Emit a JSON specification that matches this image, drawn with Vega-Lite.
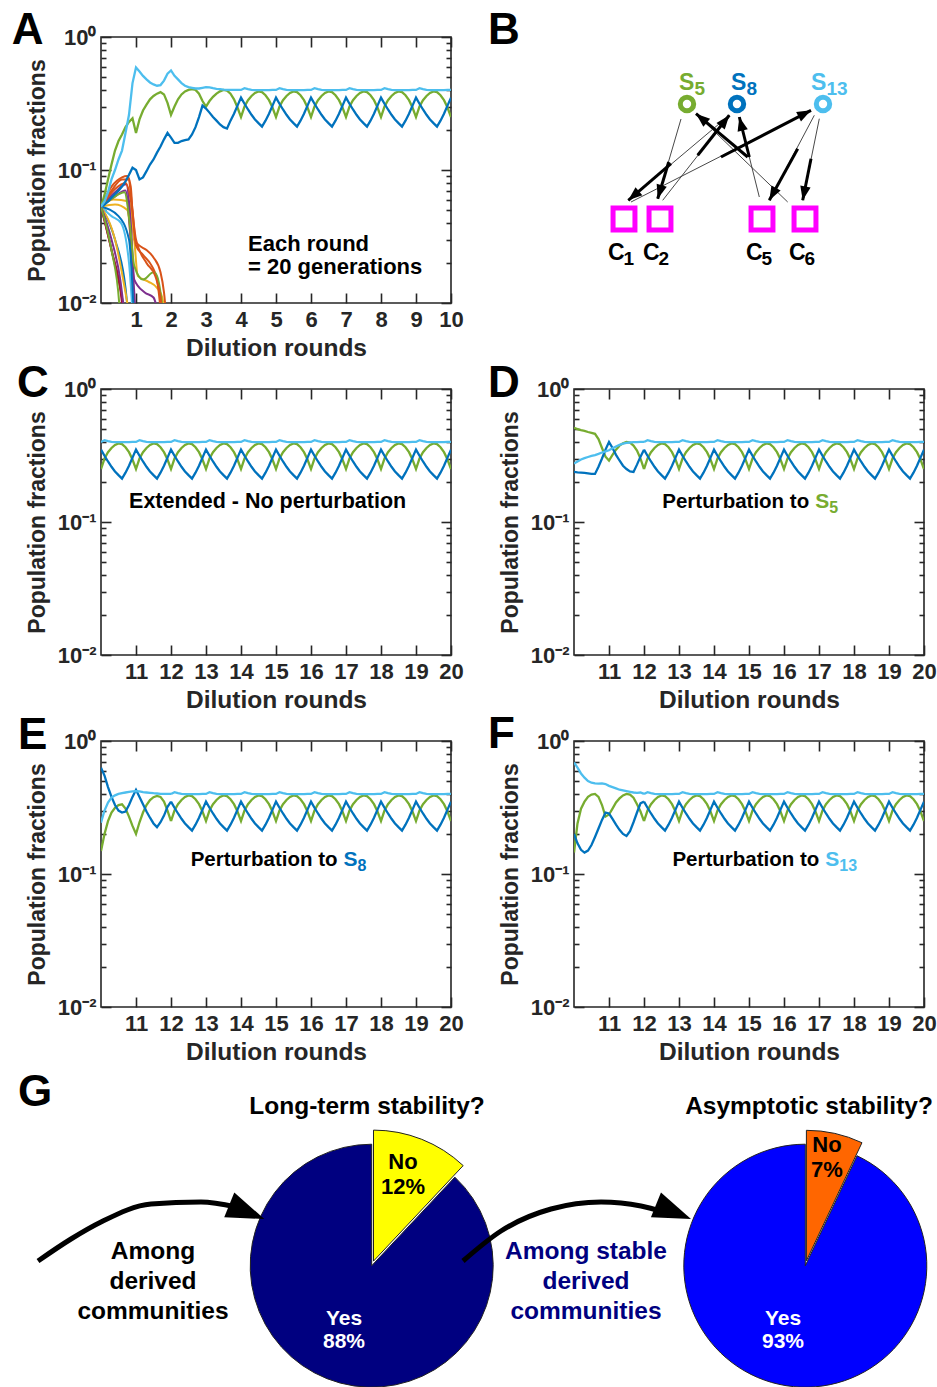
{
"$schema":"https://vega.github.io/schema/vega-lite/v6.json",
"background":"white",
"padding":{"left":10,"top":8,"right":5,"bottom":5},
"columns":2,
"bounds":"flush",
"spacing":{"row":86,"column":123},
"resolve":{"scale":{"color":"independent"}},
"config":{
 "font":"Liberation Sans",
 "view":{"stroke":"#262626","strokeWidth":1.6},
 "text":{"font":"Liberation Sans","fontWeight":"bold"},
 "axis":{"grid":false,"domain":false,"labelFont":"Liberation Sans","labelFontSize":22,"labelFontWeight":"bold","labelColor":"#262626","titleFont":"Liberation Sans","titleFontSize":23,"titleFontWeight":"bold","titleColor":"#262626","tickColor":"#262626","tickWidth":1.6,"labelFlush":false,"labelOverlap":false,"labelBound":false}
},
"datasets":{
"ts":[
{"p":"A","x":0,"S5":0.053,"S8":0.053,"S13":0.053},
{"p":"A","x":0.1,"S5":0.065,"S8":0.055,"S13":0.058},
{"p":"A","x":0.2,"S5":0.085,"S8":0.058,"S13":0.068},
{"p":"A","x":0.3,"S5":0.11,"S8":0.062,"S13":0.085},
{"p":"A","x":0.4,"S5":0.14,"S8":0.066,"S13":0.1},
{"p":"A","x":0.5,"S5":0.165,"S8":0.07,"S13":0.12},
{"p":"A","x":0.6,"S5":0.185,"S8":0.075,"S13":0.14},
{"p":"A","x":0.7,"S5":0.21,"S8":0.082,"S13":0.19},
{"p":"A","x":0.8,"S5":0.23,"S8":0.092,"S13":0.26},
{"p":"A","x":0.9,"S5":0.245,"S8":0.104,"S13":0.45},
{"p":"A","x":1,"S5":0.19,"S8":0.1,"S13":0.59},
{"p":"A","x":1.1,"S5":0.24,"S8":0.085,"S13":0.55},
{"p":"A","x":1.2,"S5":0.28,"S8":0.088,"S13":0.51},
{"p":"A","x":1.3,"S5":0.31,"S8":0.098,"S13":0.48},
{"p":"A","x":1.4,"S5":0.34,"S8":0.11,"S13":0.455},
{"p":"A","x":1.5,"S5":0.36,"S8":0.12,"S13":0.44},
{"p":"A","x":1.6,"S5":0.375,"S8":0.135,"S13":0.43},
{"p":"A","x":1.7,"S5":0.385,"S8":0.15,"S13":0.435},
{"p":"A","x":1.8,"S5":0.37,"S8":0.17,"S13":0.47},
{"p":"A","x":1.9,"S5":0.32,"S8":0.19,"S13":0.53},
{"p":"A","x":2,"S5":0.26,"S8":0.175,"S13":0.56},
{"p":"A","x":2.1,"S5":0.3,"S8":0.16,"S13":0.51},
{"p":"A","x":2.2,"S5":0.34,"S8":0.16,"S13":0.48},
{"p":"A","x":2.3,"S5":0.37,"S8":0.165,"S13":0.45},
{"p":"A","x":2.4,"S5":0.39,"S8":0.168,"S13":0.43},
{"p":"A","x":2.5,"S5":0.4,"S8":0.17,"S13":0.42},
{"p":"A","x":2.6,"S5":0.405,"S8":0.185,"S13":0.415},
{"p":"A","x":2.7,"S5":0.4,"S8":0.21,"S13":0.41},
{"p":"A","x":2.8,"S5":0.375,"S8":0.25,"S13":0.41},
{"p":"A","x":2.9,"S5":0.33,"S8":0.305,"S13":0.415},
{"p":"A","x":3,"S5":0.3,"S8":0.29,"S13":0.42},
{"p":"A","x":3.1,"S5":0.33,"S8":0.27,"S13":0.418},
{"p":"A","x":3.2,"S5":0.355,"S8":0.25,"S13":0.412},
{"p":"A","x":3.3,"S5":0.375,"S8":0.235,"S13":0.408},
{"p":"A","x":3.4,"S5":0.39,"S8":0.22,"S13":0.405},
{"p":"A","x":3.5,"S5":0.4,"S8":0.21,"S13":0.402},
{"p":"A","x":3.6,"S5":0.395,"S8":0.205,"S13":0.4},
{"p":"A","x":3.7,"S5":0.375,"S8":0.235,"S13":0.4},
{"p":"A","x":3.8,"S5":0.34,"S8":0.265,"S13":0.4},
{"p":"A","x":3.9,"S5":0.295,"S8":0.305,"S13":0.4},
{"p":"A","x":4,"S5":0.25,"S8":0.35,"S13":0.4},
{"p":"A","x":4.1,"S5":0.3,"S8":0.315,"S13":0.412},
{"p":"A","x":4.2,"S5":0.335,"S8":0.285,"S13":0.405},
{"p":"A","x":4.3,"S5":0.36,"S8":0.26,"S13":0.4},
{"p":"A","x":4.4,"S5":0.38,"S8":0.24,"S13":0.398},
{"p":"A","x":4.5,"S5":0.39,"S8":0.225,"S13":0.398},
{"p":"A","x":4.6,"S5":0.385,"S8":0.212,"S13":0.398},
{"p":"A","x":4.7,"S5":0.365,"S8":0.235,"S13":0.398},
{"p":"A","x":4.8,"S5":0.335,"S8":0.265,"S13":0.398},
{"p":"A","x":4.9,"S5":0.295,"S8":0.305,"S13":0.4},
{"p":"A","x":5,"S5":0.25,"S8":0.35,"S13":0.4},
{"p":"A","x":5.1,"S5":0.3,"S8":0.315,"S13":0.412},
{"p":"A","x":5.2,"S5":0.335,"S8":0.285,"S13":0.405},
{"p":"A","x":5.3,"S5":0.36,"S8":0.26,"S13":0.4},
{"p":"A","x":5.4,"S5":0.38,"S8":0.24,"S13":0.398},
{"p":"A","x":5.5,"S5":0.39,"S8":0.225,"S13":0.398},
{"p":"A","x":5.6,"S5":0.385,"S8":0.212,"S13":0.398},
{"p":"A","x":5.7,"S5":0.365,"S8":0.235,"S13":0.398},
{"p":"A","x":5.8,"S5":0.335,"S8":0.265,"S13":0.398},
{"p":"A","x":5.9,"S5":0.295,"S8":0.305,"S13":0.4},
{"p":"A","x":6,"S5":0.25,"S8":0.35,"S13":0.4},
{"p":"A","x":6.1,"S5":0.3,"S8":0.315,"S13":0.412},
{"p":"A","x":6.2,"S5":0.335,"S8":0.285,"S13":0.405},
{"p":"A","x":6.3,"S5":0.36,"S8":0.26,"S13":0.4},
{"p":"A","x":6.4,"S5":0.38,"S8":0.24,"S13":0.398},
{"p":"A","x":6.5,"S5":0.39,"S8":0.225,"S13":0.398},
{"p":"A","x":6.6,"S5":0.385,"S8":0.212,"S13":0.398},
{"p":"A","x":6.7,"S5":0.365,"S8":0.235,"S13":0.398},
{"p":"A","x":6.8,"S5":0.335,"S8":0.265,"S13":0.398},
{"p":"A","x":6.9,"S5":0.295,"S8":0.305,"S13":0.4},
{"p":"A","x":7,"S5":0.25,"S8":0.35,"S13":0.4},
{"p":"A","x":7.1,"S5":0.3,"S8":0.315,"S13":0.412},
{"p":"A","x":7.2,"S5":0.335,"S8":0.285,"S13":0.405},
{"p":"A","x":7.3,"S5":0.36,"S8":0.26,"S13":0.4},
{"p":"A","x":7.4,"S5":0.38,"S8":0.24,"S13":0.398},
{"p":"A","x":7.5,"S5":0.39,"S8":0.225,"S13":0.398},
{"p":"A","x":7.6,"S5":0.385,"S8":0.212,"S13":0.398},
{"p":"A","x":7.7,"S5":0.365,"S8":0.235,"S13":0.398},
{"p":"A","x":7.8,"S5":0.335,"S8":0.265,"S13":0.398},
{"p":"A","x":7.9,"S5":0.295,"S8":0.305,"S13":0.4},
{"p":"A","x":8,"S5":0.25,"S8":0.35,"S13":0.4},
{"p":"A","x":8.1,"S5":0.3,"S8":0.315,"S13":0.412},
{"p":"A","x":8.2,"S5":0.335,"S8":0.285,"S13":0.405},
{"p":"A","x":8.3,"S5":0.36,"S8":0.26,"S13":0.4},
{"p":"A","x":8.4,"S5":0.38,"S8":0.24,"S13":0.398},
{"p":"A","x":8.5,"S5":0.39,"S8":0.225,"S13":0.398},
{"p":"A","x":8.6,"S5":0.385,"S8":0.212,"S13":0.398},
{"p":"A","x":8.7,"S5":0.365,"S8":0.235,"S13":0.398},
{"p":"A","x":8.8,"S5":0.335,"S8":0.265,"S13":0.398},
{"p":"A","x":8.9,"S5":0.295,"S8":0.305,"S13":0.4},
{"p":"A","x":9,"S5":0.25,"S8":0.35,"S13":0.4},
{"p":"A","x":9.1,"S5":0.3,"S8":0.315,"S13":0.412},
{"p":"A","x":9.2,"S5":0.335,"S8":0.285,"S13":0.405},
{"p":"A","x":9.3,"S5":0.36,"S8":0.26,"S13":0.4},
{"p":"A","x":9.4,"S5":0.38,"S8":0.24,"S13":0.398},
{"p":"A","x":9.5,"S5":0.39,"S8":0.225,"S13":0.398},
{"p":"A","x":9.6,"S5":0.385,"S8":0.212,"S13":0.398},
{"p":"A","x":9.7,"S5":0.365,"S8":0.235,"S13":0.398},
{"p":"A","x":9.8,"S5":0.335,"S8":0.265,"S13":0.398},
{"p":"A","x":9.9,"S5":0.295,"S8":0.305,"S13":0.4},
{"p":"A","x":10,"S5":0.25,"S8":0.35,"S13":0.4},
{"p":"S","x":10,"S5":0.25,"S8":0.35,"S13":0.4},
{"p":"S","x":10.1,"S5":0.3,"S8":0.315,"S13":0.412},
{"p":"S","x":10.2,"S5":0.335,"S8":0.285,"S13":0.405},
{"p":"S","x":10.3,"S5":0.36,"S8":0.26,"S13":0.4},
{"p":"S","x":10.4,"S5":0.38,"S8":0.24,"S13":0.398},
{"p":"S","x":10.5,"S5":0.39,"S8":0.225,"S13":0.398},
{"p":"S","x":10.6,"S5":0.385,"S8":0.212,"S13":0.398},
{"p":"S","x":10.7,"S5":0.365,"S8":0.235,"S13":0.398},
{"p":"S","x":10.8,"S5":0.335,"S8":0.265,"S13":0.398},
{"p":"S","x":10.9,"S5":0.295,"S8":0.305,"S13":0.4},
{"p":"S","x":11,"S5":0.25,"S8":0.35,"S13":0.4},
{"p":"S","x":11.1,"S5":0.3,"S8":0.315,"S13":0.412},
{"p":"S","x":11.2,"S5":0.335,"S8":0.285,"S13":0.405},
{"p":"S","x":11.3,"S5":0.36,"S8":0.26,"S13":0.4},
{"p":"S","x":11.4,"S5":0.38,"S8":0.24,"S13":0.398},
{"p":"S","x":11.5,"S5":0.39,"S8":0.225,"S13":0.398},
{"p":"S","x":11.6,"S5":0.385,"S8":0.212,"S13":0.398},
{"p":"S","x":11.7,"S5":0.365,"S8":0.235,"S13":0.398},
{"p":"S","x":11.8,"S5":0.335,"S8":0.265,"S13":0.398},
{"p":"S","x":11.9,"S5":0.295,"S8":0.305,"S13":0.4},
{"p":"S","x":12,"S5":0.25,"S8":0.35,"S13":0.4},
{"p":"S","x":12.1,"S5":0.3,"S8":0.315,"S13":0.412},
{"p":"S","x":12.2,"S5":0.335,"S8":0.285,"S13":0.405},
{"p":"S","x":12.3,"S5":0.36,"S8":0.26,"S13":0.4},
{"p":"S","x":12.4,"S5":0.38,"S8":0.24,"S13":0.398},
{"p":"S","x":12.5,"S5":0.39,"S8":0.225,"S13":0.398},
{"p":"S","x":12.6,"S5":0.385,"S8":0.212,"S13":0.398},
{"p":"S","x":12.7,"S5":0.365,"S8":0.235,"S13":0.398},
{"p":"S","x":12.8,"S5":0.335,"S8":0.265,"S13":0.398},
{"p":"S","x":12.9,"S5":0.295,"S8":0.305,"S13":0.4},
{"p":"S","x":13,"S5":0.25,"S8":0.35,"S13":0.4},
{"p":"S","x":13.1,"S5":0.3,"S8":0.315,"S13":0.412},
{"p":"S","x":13.2,"S5":0.335,"S8":0.285,"S13":0.405},
{"p":"S","x":13.3,"S5":0.36,"S8":0.26,"S13":0.4},
{"p":"S","x":13.4,"S5":0.38,"S8":0.24,"S13":0.398},
{"p":"S","x":13.5,"S5":0.39,"S8":0.225,"S13":0.398},
{"p":"S","x":13.6,"S5":0.385,"S8":0.212,"S13":0.398},
{"p":"S","x":13.7,"S5":0.365,"S8":0.235,"S13":0.398},
{"p":"S","x":13.8,"S5":0.335,"S8":0.265,"S13":0.398},
{"p":"S","x":13.9,"S5":0.295,"S8":0.305,"S13":0.4},
{"p":"S","x":14,"S5":0.25,"S8":0.35,"S13":0.4},
{"p":"S","x":14.1,"S5":0.3,"S8":0.315,"S13":0.412},
{"p":"S","x":14.2,"S5":0.335,"S8":0.285,"S13":0.405},
{"p":"S","x":14.3,"S5":0.36,"S8":0.26,"S13":0.4},
{"p":"S","x":14.4,"S5":0.38,"S8":0.24,"S13":0.398},
{"p":"S","x":14.5,"S5":0.39,"S8":0.225,"S13":0.398},
{"p":"S","x":14.6,"S5":0.385,"S8":0.212,"S13":0.398},
{"p":"S","x":14.7,"S5":0.365,"S8":0.235,"S13":0.398},
{"p":"S","x":14.8,"S5":0.335,"S8":0.265,"S13":0.398},
{"p":"S","x":14.9,"S5":0.295,"S8":0.305,"S13":0.4},
{"p":"S","x":15,"S5":0.25,"S8":0.35,"S13":0.4},
{"p":"S","x":15.1,"S5":0.3,"S8":0.315,"S13":0.412},
{"p":"S","x":15.2,"S5":0.335,"S8":0.285,"S13":0.405},
{"p":"S","x":15.3,"S5":0.36,"S8":0.26,"S13":0.4},
{"p":"S","x":15.4,"S5":0.38,"S8":0.24,"S13":0.398},
{"p":"S","x":15.5,"S5":0.39,"S8":0.225,"S13":0.398},
{"p":"S","x":15.6,"S5":0.385,"S8":0.212,"S13":0.398},
{"p":"S","x":15.7,"S5":0.365,"S8":0.235,"S13":0.398},
{"p":"S","x":15.8,"S5":0.335,"S8":0.265,"S13":0.398},
{"p":"S","x":15.9,"S5":0.295,"S8":0.305,"S13":0.4},
{"p":"S","x":16,"S5":0.25,"S8":0.35,"S13":0.4},
{"p":"S","x":16.1,"S5":0.3,"S8":0.315,"S13":0.412},
{"p":"S","x":16.2,"S5":0.335,"S8":0.285,"S13":0.405},
{"p":"S","x":16.3,"S5":0.36,"S8":0.26,"S13":0.4},
{"p":"S","x":16.4,"S5":0.38,"S8":0.24,"S13":0.398},
{"p":"S","x":16.5,"S5":0.39,"S8":0.225,"S13":0.398},
{"p":"S","x":16.6,"S5":0.385,"S8":0.212,"S13":0.398},
{"p":"S","x":16.7,"S5":0.365,"S8":0.235,"S13":0.398},
{"p":"S","x":16.8,"S5":0.335,"S8":0.265,"S13":0.398},
{"p":"S","x":16.9,"S5":0.295,"S8":0.305,"S13":0.4},
{"p":"S","x":17,"S5":0.25,"S8":0.35,"S13":0.4},
{"p":"S","x":17.1,"S5":0.3,"S8":0.315,"S13":0.412},
{"p":"S","x":17.2,"S5":0.335,"S8":0.285,"S13":0.405},
{"p":"S","x":17.3,"S5":0.36,"S8":0.26,"S13":0.4},
{"p":"S","x":17.4,"S5":0.38,"S8":0.24,"S13":0.398},
{"p":"S","x":17.5,"S5":0.39,"S8":0.225,"S13":0.398},
{"p":"S","x":17.6,"S5":0.385,"S8":0.212,"S13":0.398},
{"p":"S","x":17.7,"S5":0.365,"S8":0.235,"S13":0.398},
{"p":"S","x":17.8,"S5":0.335,"S8":0.265,"S13":0.398},
{"p":"S","x":17.9,"S5":0.295,"S8":0.305,"S13":0.4},
{"p":"S","x":18,"S5":0.25,"S8":0.35,"S13":0.4},
{"p":"S","x":18.1,"S5":0.3,"S8":0.315,"S13":0.412},
{"p":"S","x":18.2,"S5":0.335,"S8":0.285,"S13":0.405},
{"p":"S","x":18.3,"S5":0.36,"S8":0.26,"S13":0.4},
{"p":"S","x":18.4,"S5":0.38,"S8":0.24,"S13":0.398},
{"p":"S","x":18.5,"S5":0.39,"S8":0.225,"S13":0.398},
{"p":"S","x":18.6,"S5":0.385,"S8":0.212,"S13":0.398},
{"p":"S","x":18.7,"S5":0.365,"S8":0.235,"S13":0.398},
{"p":"S","x":18.8,"S5":0.335,"S8":0.265,"S13":0.398},
{"p":"S","x":18.9,"S5":0.295,"S8":0.305,"S13":0.4},
{"p":"S","x":19,"S5":0.25,"S8":0.35,"S13":0.4},
{"p":"S","x":19.1,"S5":0.3,"S8":0.315,"S13":0.412},
{"p":"S","x":19.2,"S5":0.335,"S8":0.285,"S13":0.405},
{"p":"S","x":19.3,"S5":0.36,"S8":0.26,"S13":0.4},
{"p":"S","x":19.4,"S5":0.38,"S8":0.24,"S13":0.398},
{"p":"S","x":19.5,"S5":0.39,"S8":0.225,"S13":0.398},
{"p":"S","x":19.6,"S5":0.385,"S8":0.212,"S13":0.398},
{"p":"S","x":19.7,"S5":0.365,"S8":0.235,"S13":0.398},
{"p":"S","x":19.8,"S5":0.335,"S8":0.265,"S13":0.398},
{"p":"S","x":19.9,"S5":0.295,"S8":0.305,"S13":0.4},
{"p":"S","x":20,"S5":0.25,"S8":0.35,"S13":0.4},
{"p":"D","x":10,"S5":0.51,"S8":0.238,"S13":0.275},
{"p":"D","x":10.1,"S5":0.5,"S8":0.236,"S13":0.285},
{"p":"D","x":10.2,"S5":0.49,"S8":0.235,"S13":0.295},
{"p":"D","x":10.3,"S5":0.485,"S8":0.234,"S13":0.302},
{"p":"D","x":10.4,"S5":0.475,"S8":0.232,"S13":0.308},
{"p":"D","x":10.5,"S5":0.468,"S8":0.23,"S13":0.314},
{"p":"D","x":10.6,"S5":0.46,"S8":0.23,"S13":0.318},
{"p":"D","x":10.7,"S5":0.42,"S8":0.26,"S13":0.325},
{"p":"D","x":10.8,"S5":0.36,"S8":0.3,"S13":0.333},
{"p":"D","x":10.9,"S5":0.31,"S8":0.35,"S13":0.34},
{"p":"D","x":11,"S5":0.29,"S8":0.4,"S13":0.346},
{"p":"D","x":11.1,"S5":0.32,"S8":0.36,"S13":0.358},
{"p":"D","x":11.2,"S5":0.35,"S8":0.32,"S13":0.37},
{"p":"D","x":11.3,"S5":0.375,"S8":0.29,"S13":0.38},
{"p":"D","x":11.4,"S5":0.39,"S8":0.265,"S13":0.388},
{"p":"D","x":11.5,"S5":0.4,"S8":0.25,"S13":0.393},
{"p":"D","x":11.6,"S5":0.395,"S8":0.24,"S13":0.396},
{"p":"D","x":11.7,"S5":0.375,"S8":0.238,"S13":0.398},
{"p":"D","x":11.8,"S5":0.345,"S8":0.27,"S13":0.398},
{"p":"D","x":11.9,"S5":0.3,"S8":0.31,"S13":0.4},
{"p":"D","x":12,"S5":0.25,"S8":0.35,"S13":0.4},
{"p":"E","x":10,"S5":0.149,"S8":0.63,"S13":0.243},
{"p":"E","x":10.1,"S5":0.2,"S8":0.55,"S13":0.3},
{"p":"E","x":10.2,"S5":0.25,"S8":0.45,"S13":0.345},
{"p":"E","x":10.3,"S5":0.29,"S8":0.38,"S13":0.375},
{"p":"E","x":10.4,"S5":0.315,"S8":0.33,"S13":0.39},
{"p":"E","x":10.5,"S5":0.33,"S8":0.3,"S13":0.4},
{"p":"E","x":10.6,"S5":0.334,"S8":0.29,"S13":0.405},
{"p":"E","x":10.7,"S5":0.31,"S8":0.295,"S13":0.41},
{"p":"E","x":10.8,"S5":0.27,"S8":0.33,"S13":0.415},
{"p":"E","x":10.9,"S5":0.23,"S8":0.38,"S13":0.418},
{"p":"E","x":11,"S5":0.2,"S8":0.43,"S13":0.42},
{"p":"E","x":11.1,"S5":0.245,"S8":0.38,"S13":0.418},
{"p":"E","x":11.2,"S5":0.29,"S8":0.335,"S13":0.412},
{"p":"E","x":11.3,"S5":0.33,"S8":0.295,"S13":0.41},
{"p":"E","x":11.4,"S5":0.36,"S8":0.265,"S13":0.408},
{"p":"E","x":11.5,"S5":0.378,"S8":0.24,"S13":0.405},
{"p":"E","x":11.6,"S5":0.386,"S8":0.225,"S13":0.403},
{"p":"E","x":11.7,"S5":0.38,"S8":0.245,"S13":0.4},
{"p":"E","x":11.8,"S5":0.35,"S8":0.275,"S13":0.4},
{"p":"E","x":11.9,"S5":0.3,"S8":0.32,"S13":0.4},
{"p":"E","x":12,"S5":0.25,"S8":0.35,"S13":0.4},
{"p":"F","x":10,"S5":0.145,"S8":0.2,"S13":0.69},
{"p":"F","x":10.1,"S5":0.24,"S8":0.17,"S13":0.63},
{"p":"F","x":10.2,"S5":0.31,"S8":0.152,"S13":0.57},
{"p":"F","x":10.3,"S5":0.35,"S8":0.145,"S13":0.53},
{"p":"F","x":10.4,"S5":0.38,"S8":0.15,"S13":0.5},
{"p":"F","x":10.5,"S5":0.395,"S8":0.165,"S13":0.486},
{"p":"F","x":10.6,"S5":0.4,"S8":0.19,"S13":0.48},
{"p":"F","x":10.7,"S5":0.38,"S8":0.22,"S13":0.478},
{"p":"F","x":10.8,"S5":0.33,"S8":0.255,"S13":0.48},
{"p":"F","x":10.9,"S5":0.27,"S8":0.29,"S13":0.475},
{"p":"F","x":11,"S5":0.28,"S8":0.285,"S13":0.46},
{"p":"F","x":11.1,"S5":0.31,"S8":0.26,"S13":0.45},
{"p":"F","x":11.2,"S5":0.345,"S8":0.235,"S13":0.44},
{"p":"F","x":11.3,"S5":0.37,"S8":0.215,"S13":0.43},
{"p":"F","x":11.4,"S5":0.39,"S8":0.2,"S13":0.425},
{"p":"F","x":11.5,"S5":0.4,"S8":0.193,"S13":0.42},
{"p":"F","x":11.6,"S5":0.395,"S8":0.21,"S13":0.415},
{"p":"F","x":11.7,"S5":0.375,"S8":0.245,"S13":0.41},
{"p":"F","x":11.8,"S5":0.335,"S8":0.29,"S13":0.408},
{"p":"F","x":11.9,"S5":0.295,"S8":0.34,"S13":0.41},
{"p":"F","x":12,"S5":0.25,"S8":0.35,"S13":0.4}
],
"ext":[
{"sp":"S1","x":0,"v":0.053},{"sp":"S1","x":0.4,"v":0.03},{"sp":"S1","x":0.7,"v":0.013},{"sp":"S1","x":0.8,"v":0.007},
{"sp":"S2","x":0,"v":0.053},{"sp":"S2","x":0.3,"v":0.075},{"sp":"S2","x":0.6,"v":0.088},{"sp":"S2","x":0.75,"v":0.09},{"sp":"S2","x":0.85,"v":0.075},{"sp":"S2","x":0.95,"v":0.03},{"sp":"S2","x":1.1,"v":0.027},{"sp":"S2","x":1.3,"v":0.025},{"sp":"S2","x":1.5,"v":0.022},{"sp":"S2","x":1.7,"v":0.017},{"sp":"S2","x":1.8,"v":0.012},{"sp":"S2","x":1.9,"v":0.006},
{"sp":"S3","x":0,"v":0.053},{"sp":"S3","x":0.35,"v":0.06},{"sp":"S3","x":0.8,"v":0.058},{"sp":"S3","x":0.95,"v":0.03},{"sp":"S3","x":1.05,"v":0.016},{"sp":"S3","x":1.35,"v":0.0145},{"sp":"S3","x":1.6,"v":0.013},{"sp":"S3","x":1.75,"v":0.011},{"sp":"S3","x":1.85,"v":0.007},
{"sp":"S4","x":0,"v":0.053},{"sp":"S4","x":0.4,"v":0.068},{"sp":"S4","x":0.72,"v":0.078},{"sp":"S4","x":0.85,"v":0.04},{"sp":"S4","x":0.95,"v":0.015},{"sp":"S4","x":1.25,"v":0.012},{"sp":"S4","x":1.5,"v":0.011},{"sp":"S4","x":1.65,"v":0.008},
{"sp":"S6","x":0,"v":0.053},{"sp":"S6","x":0.3,"v":0.045},{"sp":"S6","x":0.57,"v":0.04},{"sp":"S6","x":0.8,"v":0.02},{"sp":"S6","x":0.92,"v":0.007},
{"sp":"S7","x":0,"v":0.053},{"sp":"S7","x":0.3,"v":0.025},{"sp":"S7","x":0.6,"v":0.01},{"sp":"S7","x":0.65,"v":0.007},
{"sp":"S9","x":0,"v":0.053},{"sp":"S9","x":0.3,"v":0.07},{"sp":"S9","x":0.6,"v":0.085},{"sp":"S9","x":0.78,"v":0.085},{"sp":"S9","x":0.9,"v":0.05},{"sp":"S9","x":1,"v":0.027},{"sp":"S9","x":1.2,"v":0.023},{"sp":"S9","x":1.45,"v":0.019},{"sp":"S9","x":1.6,"v":0.015},{"sp":"S9","x":1.72,"v":0.008},
{"sp":"S10","x":0,"v":0.053},{"sp":"S10","x":0.4,"v":0.055},{"sp":"S10","x":0.75,"v":0.05},{"sp":"S10","x":0.9,"v":0.015},{"sp":"S10","x":0.95,"v":0.007},
{"sp":"S11","x":0,"v":0.053},{"sp":"S11","x":0.35,"v":0.062},{"sp":"S11","x":0.7,"v":0.07},{"sp":"S11","x":0.85,"v":0.03},{"sp":"S11","x":0.95,"v":0.012},{"sp":"S11","x":1,"v":0.007},
{"sp":"S12","x":0,"v":0.053},{"sp":"S12","x":0.35,"v":0.062},{"sp":"S12","x":0.67,"v":0.068},{"sp":"S12","x":0.82,"v":0.04},{"sp":"S12","x":0.95,"v":0.019},{"sp":"S12","x":1.2,"v":0.015},{"sp":"S12","x":1.5,"v":0.017},{"sp":"S12","x":1.6,"v":0.016},{"sp":"S12","x":1.72,"v":0.011},{"sp":"S12","x":1.8,"v":0.007},
{"sp":"S14","x":0,"v":0.053},{"sp":"S14","x":0.35,"v":0.022},{"sp":"S14","x":0.65,"v":0.009},{"sp":"S14","x":0.7,"v":0.007},
{"sp":"S15","x":0,"v":0.053},{"sp":"S15","x":0.5,"v":0.045},{"sp":"S15","x":0.8,"v":0.03},{"sp":"S15","x":0.95,"v":0.007},
{"sp":"S16","x":0,"v":0.053},{"sp":"S16","x":0.4,"v":0.072},{"sp":"S16","x":0.7,"v":0.08},{"sp":"S16","x":0.85,"v":0.06},{"sp":"S16","x":1,"v":0.03},{"sp":"S16","x":1.3,"v":0.02},{"sp":"S16","x":1.55,"v":0.016},{"sp":"S16","x":1.7,"v":0.011},{"sp":"S16","x":1.78,"v":0.007},
{"sp":"S17","x":0,"v":0.053},{"sp":"S17","x":0.4,"v":0.03},{"sp":"S17","x":0.7,"v":0.012},{"sp":"S17","x":0.85,"v":0.007},
{"sp":"S18","x":0,"v":0.053},{"sp":"S18","x":0.3,"v":0.03},{"sp":"S18","x":0.55,"v":0.015},{"sp":"S18","x":0.7,"v":0.007},
{"sp":"S19","x":0,"v":0.053},{"sp":"S19","x":0.3,"v":0.025},{"sp":"S19","x":0.52,"v":0.01},{"sp":"S19","x":0.56,"v":0.007}
],
"bnodes":[
{"n":"S5","k":"S","x":113,"y":67,"lx":105,"ly":53,"sub":"5"},
{"n":"S8","k":"S","x":163,"y":67,"lx":157,"ly":53,"sub":"8"},
{"n":"S13","k":"S","x":249,"y":67,"lx":237,"ly":53,"sub":"13"},
{"n":"C1","k":"C","x":50,"y":182,"lx":34,"ly":223,"sub":"1"},
{"n":"C2","k":"C","x":86,"y":182,"lx":69,"ly":223,"sub":"2"},
{"n":"C5","k":"C","x":188,"y":182,"lx":172,"ly":223,"sub":"5"},
{"n":"C6","k":"C","x":231,"y":182,"lx":215,"ly":223,"sub":"6"}
],
"bedges":[
{"sx":107,"sy":82,"mx":94.7,"my":125,"tx":83.7,"ty":161.7},
{"sx":155.3,"sy":78.3,"mx":97,"my":126.7,"tx":54.3,"ty":163.3},
{"sx":88.7,"sy":163.3,"mx":123.7,"my":118.3,"tx":155.3,"ty":78.3},
{"sx":57,"sy":165,"mx":147,"my":120,"tx":237,"ty":73.3},
{"sx":185.3,"sy":160,"mx":175.3,"my":120,"tx":165.3,"ty":80},
{"sx":213.7,"sy":165,"mx":173.7,"my":120,"tx":122,"ty":76.7},
{"sx":240.3,"sy":78.3,"mx":223.7,"my":111.7,"tx":195.3,"ty":163.3},
{"sx":245.3,"sy":81.7,"mx":237,"my":121.7,"tx":228.7,"ty":163.3}
],
"pie":[
{"g":"1","a":"No","pct":12},{"g":"1","a":"Yes","pct":88},
{"g":"2","a":"No","pct":7},{"g":"2","a":"Yes","pct":93}
],
"garr":[
{"g":"1","x":-63,"y":168},{"g":"1","x":-30,"y":146},{"g":"1","x":0,"y":129},{"g":"1","x":50,"y":111},{"g":"1","x":100,"y":109},{"g":"1","x":135,"y":114},
{"g":"2","x":-111,"y":168},{"g":"2","x":-73,"y":138},{"g":"2","x":-23,"y":116},{"g":"2","x":27,"y":109},{"g":"2","x":67,"y":113},{"g":"2","x":90,"y":119}
]
},
"concat":[
{
"width":350,"height":266,
"layer":[
{"data":{"name":"ext"},"mark":{"type":"line","strokeWidth":2,"clip":true,"interpolate":"monotone"},
 "encoding":{"x":{"field":"x","type":"quantitative","scale":{"domain":[0,10],"nice":false,"zero":false},"axis":null},
  "y":{"field":"v","type":"quantitative","scale":{"type":"log","domain":[0.01,1],"nice":false},"axis":null},
  "color":{"field":"sp","type":"nominal","legend":null,"scale":{"domain":["S1","S2","S3","S4","S5","S6","S7","S8","S9","S10","S11","S12","S13","S14","S15","S16","S17","S18","S19"],"range":["#0072BD","#D95319","#EDB120","#7E2F8E","#77AC30","#4DBEEE","#A2142F","#0072BD","#D95319","#EDB120","#7E2F8E","#77AC30","#4DBEEE","#A2142F","#0072BD","#D95319","#EDB120","#7E2F8E","#77AC30"]}}}},
{"data":{"name":"ts"},"transform":[{"filter":"datum.p=='A'"},{"fold":["S5","S8","S13"],"as":["sp","v"]}],
 "mark":{"type":"line","strokeWidth":2.3,"clip":true},
 "encoding":{"x":{"field":"x","type":"quantitative","scale":{"domain":[0,10],"nice":false,"zero":false},
   "axis":{"orient":"bottom","values":[1,2,3,4,5,6,7,8,9,10],"title":"Dilution rounds","titleFontSize":24.5,"tickSize":-10,"labelPadding":16,"titlePadding":6}},
  "y":{"field":"v","type":"quantitative","scale":{"type":"log","domain":[0.01,1],"nice":false},
   "axis":{"orient":"left","values":[0.01,0.02,0.03,0.04,0.05,0.06,0.07,0.08,0.09,0.1,0.2,0.3,0.4,0.5,0.6,0.7,0.8,0.9,1],"tickSize":{"condition":{"test":"datum.value==1||datum.value==0.1||datum.value==0.01","value":-10},"value":-5},"labelExpr":"datum.value==1?'10⁰':datum.value==0.1?'10⁻¹':datum.value==0.01?'10⁻²':''","labelPadding":15,"title":"Population fractions","titlePadding":8}},
  "color":{"field":"sp","type":"nominal","legend":null,"scale":{"domain":["S1","S2","S3","S4","S5","S6","S7","S8","S9","S10","S11","S12","S13","S14","S15","S16","S17","S18","S19"],"range":["#0072BD","#D95319","#EDB120","#7E2F8E","#77AC30","#4DBEEE","#A2142F","#0072BD","#D95319","#EDB120","#7E2F8E","#77AC30","#4DBEEE","#A2142F","#0072BD","#D95319","#EDB120","#7E2F8E","#77AC30"]}}}},
{"data":{"values":[{}]},"mark":{"type":"text","text":["Each round","= 20 generations"],"fontSize":22,"align":"left","baseline":"alphabetic","lineHeight":23,"color":"#000"},
 "encoding":{"x":{"datum":4.2,"type":"quantitative","scale":{"domain":[0,10],"nice":false,"zero":false},"axis":{"orient":"top","values":[1,2,3,4,5,6,7,8,9,10],"tickSize":-10,"labels":false,"title":null}},
  "y":{"datum":0.0245,"type":"quantitative","scale":{"type":"log","domain":[0.01,1],"nice":false},"axis":{"orient":"right","values":[0.01,0.02,0.03,0.04,0.05,0.06,0.07,0.08,0.09,0.1,0.2,0.3,0.4,0.5,0.6,0.7,0.8,0.9,1],"tickSize":{"condition":{"test":"datum.value==1||datum.value==0.1||datum.value==0.01","value":-10},"value":-5},"labels":false,"title":null}}}},
{"data":{"values":[{}]},"mark":{"type":"text","text":"A","fontSize":44,"align":"left","baseline":"alphabetic","color":"#000"},
 "encoding":{"x":{"datum":-2.55,"type":"quantitative","axis":null},"y":{"datum":0.885,"type":"quantitative","axis":null}}}
],
"resolve":{"axis":{"x":"independent","y":"independent"}}
},
{
"width":350,"height":266,"view":{"stroke":null},
"layer":[
{"data":{"name":"bedges"},"mark":{"type":"rule","strokeWidth":0.9,"color":"#333"},
 "encoding":{"x":{"field":"sx","type":"quantitative","scale":{"domain":[0,350],"nice":false,"zero":false},"axis":null},"y":{"field":"sy","type":"quantitative","scale":{"domain":[266,0],"nice":false,"zero":false},"axis":null},"x2":{"field":"tx"},"y2":{"field":"ty"}}},
{"data":{"name":"bedges"},"mark":{"type":"rule","strokeWidth":3,"color":"#000"},
 "encoding":{"x":{"field":"mx","type":"quantitative","scale":{"domain":[0,350],"nice":false,"zero":false},"axis":null},"y":{"field":"my","type":"quantitative","scale":{"domain":[266,0],"nice":false,"zero":false},"axis":null},"x2":{"field":"tx"},"y2":{"field":"ty"}}},
{"data":{"name":"bedges"},"transform":[{"calculate":"atan2(datum.ty-datum.my,datum.tx-datum.mx)*180/PI","as":"ang"}],
 "mark":{"type":"point","shape":"M0,0L-2,-0.75L-2,0.75Z","filled":true,"size":196,"color":"#000","opacity":1},
 "encoding":{"x":{"field":"tx","type":"quantitative","scale":{"domain":[0,350],"nice":false,"zero":false},"axis":null},"y":{"field":"ty","type":"quantitative","scale":{"domain":[266,0],"nice":false,"zero":false},"axis":null},"angle":{"field":"ang","type":"quantitative","scale":null}}},
{"data":{"name":"bnodes"},"transform":[{"filter":"datum.k=='S'"}],"mark":{"type":"point","shape":"circle","filled":false,"strokeWidth":5,"size":180,"opacity":1},
 "encoding":{"x":{"field":"x","type":"quantitative","scale":{"domain":[0,350],"nice":false,"zero":false},"axis":null},"y":{"field":"y","type":"quantitative","scale":{"domain":[266,0],"nice":false,"zero":false},"axis":null},
  "color":{"field":"n","type":"nominal","legend":null,"scale":{"domain":["S5","S8","S13","C1","C2","C5","C6"],"range":["#77AC30","#0072BD","#4DBEEE","#000000","#000000","#000000","#000000"]}}}},
{"data":{"name":"bnodes"},"transform":[{"filter":"datum.k=='C'"}],"mark":{"type":"point","shape":"square","filled":false,"strokeWidth":5,"size":480,"color":"#FF00FF","opacity":1},
 "encoding":{"x":{"field":"x","type":"quantitative","scale":{"domain":[0,350],"nice":false,"zero":false},"axis":null},"y":{"field":"y","type":"quantitative","scale":{"domain":[266,0],"nice":false,"zero":false},"axis":null}}},
{"data":{"name":"bnodes"},"mark":{"type":"text","fontSize":23,"align":"left","baseline":"alphabetic"},
 "encoding":{"x":{"field":"lx","type":"quantitative","scale":{"domain":[0,350],"nice":false,"zero":false},"axis":null},"y":{"field":"ly","type":"quantitative","scale":{"domain":[266,0],"nice":false,"zero":false},"axis":null},"text":{"field":"k"},
  "color":{"field":"n","type":"nominal","legend":null,"scale":{"domain":["S5","S8","S13","C1","C2","C5","C6"],"range":["#77AC30","#0072BD","#4DBEEE","#000000","#000000","#000000","#000000"]}}}},
{"data":{"name":"bnodes"},"mark":{"type":"text","fontSize":19,"align":"left","baseline":"alphabetic","dx":15.5,"dy":5},
 "encoding":{"x":{"field":"lx","type":"quantitative","scale":{"domain":[0,350],"nice":false,"zero":false},"axis":null},"y":{"field":"ly","type":"quantitative","scale":{"domain":[266,0],"nice":false,"zero":false},"axis":null},"text":{"field":"sub"},
  "color":{"field":"n","type":"nominal","legend":null,"scale":{"domain":["S5","S8","S13","C1","C2","C5","C6"],"range":["#77AC30","#0072BD","#4DBEEE","#000000","#000000","#000000","#000000"]}}}},
{"data":{"values":[{}]},"mark":{"type":"text","text":"B","fontSize":44,"align":"left","baseline":"alphabetic","color":"#000"},
 "encoding":{"x":{"datum":-86,"type":"quantitative","scale":{"domain":[0,350],"nice":false,"zero":false},"axis":null},"y":{"datum":7,"type":"quantitative","scale":{"domain":[266,0],"nice":false,"zero":false},"axis":null}}}
]
},
{
"width":350,"height":266,
"layer":[
{"data":{"name":"ts"},"transform":[{"filter":"datum.p=='S'"},{"fold":["S5","S8","S13"],"as":["sp","v"]}],
 "mark":{"type":"line","strokeWidth":2.3,"clip":true},
 "encoding":{"x":{"field":"x","type":"quantitative","scale":{"domain":[10,20],"nice":false,"zero":false},
   "axis":{"orient":"bottom","values":[11,12,13,14,15,16,17,18,19,20],"title":"Dilution rounds","titleFontSize":24.5,"tickSize":-10,"labelPadding":16,"titlePadding":6}},
  "y":{"field":"v","type":"quantitative","scale":{"type":"log","domain":[0.01,1],"nice":false},
   "axis":{"orient":"left","values":[0.01,0.02,0.03,0.04,0.05,0.06,0.07,0.08,0.09,0.1,0.2,0.3,0.4,0.5,0.6,0.7,0.8,0.9,1],"tickSize":{"condition":{"test":"datum.value==1||datum.value==0.1||datum.value==0.01","value":-10},"value":-5},"labelExpr":"datum.value==1?'10⁰':datum.value==0.1?'10⁻¹':datum.value==0.01?'10⁻²':''","labelPadding":15,"title":"Population fractions","titlePadding":8}},
  "color":{"field":"sp","type":"nominal","legend":null,"scale":{"domain":["S5","S8","S13"],"range":["#77AC30","#0072BD","#4DBEEE"]}}}},
{"data":{"values":[{}]},"mark":{"type":"text","text":"Extended - No perturbation","fontSize":21.5,"align":"center","baseline":"alphabetic","color":"#000"},
 "encoding":{"x":{"datum":14.76,"type":"quantitative","scale":{"domain":[10,20],"nice":false,"zero":false},"axis":{"orient":"top","values":[11,12,13,14,15,16,17,18,19,20],"tickSize":-10,"labels":false,"title":null}},
  "y":{"datum":0.1274,"type":"quantitative","scale":{"type":"log","domain":[0.01,1],"nice":false},"axis":{"orient":"right","values":[0.01,0.02,0.03,0.04,0.05,0.06,0.07,0.08,0.09,0.1,0.2,0.3,0.4,0.5,0.6,0.7,0.8,0.9,1],"tickSize":{"condition":{"test":"datum.value==1||datum.value==0.1||datum.value==0.01","value":-10},"value":-5},"labels":false,"title":null}}}},
{"data":{"values":[{}]},"mark":{"type":"text","text":"C","fontSize":44,"align":"left","baseline":"alphabetic","color":"#000"},
 "encoding":{"x":{"datum":7.6,"type":"quantitative","axis":null},"y":{"datum":0.871,"type":"quantitative","axis":null}}}
],
"resolve":{"axis":{"x":"independent","y":"independent"}}
},
{
"width":350,"height":266,
"layer":[
{"data":{"name":"ts"},"transform":[{"filter":"datum.p=='D'"},{"fold":["S5","S8","S13"],"as":["sp","v"]}],
 "mark":{"type":"line","strokeWidth":2.3,"clip":true},
 "encoding":{"x":{"field":"x","type":"quantitative","scale":{"domain":[10,20],"nice":false,"zero":false},
   "axis":{"orient":"bottom","values":[11,12,13,14,15,16,17,18,19,20],"title":"Dilution rounds","titleFontSize":24.5,"tickSize":-10,"labelPadding":16,"titlePadding":6}},
  "y":{"field":"v","type":"quantitative","scale":{"type":"log","domain":[0.01,1],"nice":false},
   "axis":{"orient":"left","values":[0.01,0.02,0.03,0.04,0.05,0.06,0.07,0.08,0.09,0.1,0.2,0.3,0.4,0.5,0.6,0.7,0.8,0.9,1],"tickSize":{"condition":{"test":"datum.value==1||datum.value==0.1||datum.value==0.01","value":-10},"value":-5},"labelExpr":"datum.value==1?'10⁰':datum.value==0.1?'10⁻¹':datum.value==0.01?'10⁻²':''","labelPadding":15,"title":"Population fractions","titlePadding":8}},
  "color":{"field":"sp","type":"nominal","legend":null,"scale":{"domain":["S5","S8","S13"],"range":["#77AC30","#0072BD","#4DBEEE"]}}}},
{"data":{"name":"ts"},"transform":[{"filter":"datum.p=='S' && datum.x>=12"},{"fold":["S5","S8","S13"],"as":["sp","v"]}],
 "mark":{"type":"line","strokeWidth":2.3,"clip":true},
 "encoding":{"x":{"field":"x","type":"quantitative","scale":{"domain":[10,20],"nice":false,"zero":false},"axis":null},
  "y":{"field":"v","type":"quantitative","scale":{"type":"log","domain":[0.01,1],"nice":false},"axis":null},
  "color":{"field":"sp","type":"nominal","legend":null,"scale":{"domain":["S5","S8","S13"],"range":["#77AC30","#0072BD","#4DBEEE"]}}}},
{"data":{"values":[{}]},"mark":{"type":"text","text":"Perturbation to","fontSize":20.5,"align":"right","baseline":"alphabetic","color":"#000"},
 "encoding":{"x":{"datum":16.72,"type":"quantitative","scale":{"domain":[10,20],"nice":false,"zero":false},"axis":{"orient":"top","values":[11,12,13,14,15,16,17,18,19,20],"tickSize":-10,"labels":false,"title":null}},
  "y":{"datum":0.1274,"type":"quantitative","scale":{"type":"log","domain":[0.01,1],"nice":false},"axis":{"orient":"right","values":[0.01,0.02,0.03,0.04,0.05,0.06,0.07,0.08,0.09,0.1,0.2,0.3,0.4,0.5,0.6,0.7,0.8,0.9,1],"tickSize":{"condition":{"test":"datum.value==1||datum.value==0.1||datum.value==0.01","value":-10},"value":-5},"labels":false,"title":null}}}},
{"data":{"values":[{}]},"mark":{"type":"text","text":"S","fontSize":21,"align":"left","baseline":"alphabetic","dx":6,"color":"#77AC30"},
 "encoding":{"x":{"datum":16.72,"type":"quantitative","axis":null},"y":{"datum":0.1274,"type":"quantitative","axis":null}}},
{"data":{"values":[{}]},"mark":{"type":"text","text":"5","fontSize":16,"align":"left","baseline":"alphabetic","dx":20,"dy":5,"color":"#77AC30"},
 "encoding":{"x":{"datum":16.72,"type":"quantitative","axis":null},"y":{"datum":0.1274,"type":"quantitative","axis":null}}},
{"data":{"values":[{}]},"mark":{"type":"text","text":"D","fontSize":44,"align":"left","baseline":"alphabetic","color":"#000"},
 "encoding":{"x":{"datum":7.54,"type":"quantitative","axis":null},"y":{"datum":0.871,"type":"quantitative","axis":null}}}
],
"resolve":{"axis":{"x":"independent","y":"independent"}}
},
{
"width":350,"height":266,
"layer":[
{"data":{"name":"ts"},"transform":[{"filter":"datum.p=='E'"},{"fold":["S5","S8","S13"],"as":["sp","v"]}],
 "mark":{"type":"line","strokeWidth":2.3,"clip":true},
 "encoding":{"x":{"field":"x","type":"quantitative","scale":{"domain":[10,20],"nice":false,"zero":false},
   "axis":{"orient":"bottom","values":[11,12,13,14,15,16,17,18,19,20],"title":"Dilution rounds","titleFontSize":24.5,"tickSize":-10,"labelPadding":16,"titlePadding":6}},
  "y":{"field":"v","type":"quantitative","scale":{"type":"log","domain":[0.01,1],"nice":false},
   "axis":{"orient":"left","values":[0.01,0.02,0.03,0.04,0.05,0.06,0.07,0.08,0.09,0.1,0.2,0.3,0.4,0.5,0.6,0.7,0.8,0.9,1],"tickSize":{"condition":{"test":"datum.value==1||datum.value==0.1||datum.value==0.01","value":-10},"value":-5},"labelExpr":"datum.value==1?'10⁰':datum.value==0.1?'10⁻¹':datum.value==0.01?'10⁻²':''","labelPadding":15,"title":"Population fractions","titlePadding":8}},
  "color":{"field":"sp","type":"nominal","legend":null,"scale":{"domain":["S5","S8","S13"],"range":["#77AC30","#0072BD","#4DBEEE"]}}}},
{"data":{"name":"ts"},"transform":[{"filter":"datum.p=='S' && datum.x>=12"},{"fold":["S5","S8","S13"],"as":["sp","v"]}],
 "mark":{"type":"line","strokeWidth":2.3,"clip":true},
 "encoding":{"x":{"field":"x","type":"quantitative","scale":{"domain":[10,20],"nice":false,"zero":false},"axis":null},
  "y":{"field":"v","type":"quantitative","scale":{"type":"log","domain":[0.01,1],"nice":false},"axis":null},
  "color":{"field":"sp","type":"nominal","legend":null,"scale":{"domain":["S5","S8","S13"],"range":["#77AC30","#0072BD","#4DBEEE"]}}}},
{"data":{"values":[{}]},"mark":{"type":"text","text":"Perturbation to","fontSize":20.5,"align":"right","baseline":"alphabetic","color":"#000"},
 "encoding":{"x":{"datum":16.76,"type":"quantitative","scale":{"domain":[10,20],"nice":false,"zero":false},"axis":{"orient":"top","values":[11,12,13,14,15,16,17,18,19,20],"tickSize":-10,"labels":false,"title":null}},
  "y":{"datum":0.1148,"type":"quantitative","scale":{"type":"log","domain":[0.01,1],"nice":false},"axis":{"orient":"right","values":[0.01,0.02,0.03,0.04,0.05,0.06,0.07,0.08,0.09,0.1,0.2,0.3,0.4,0.5,0.6,0.7,0.8,0.9,1],"tickSize":{"condition":{"test":"datum.value==1||datum.value==0.1||datum.value==0.01","value":-10},"value":-5},"labels":false,"title":null}}}},
{"data":{"values":[{}]},"mark":{"type":"text","text":"S","fontSize":21,"align":"left","baseline":"alphabetic","dx":6,"color":"#0072BD"},
 "encoding":{"x":{"datum":16.76,"type":"quantitative","axis":null},"y":{"datum":0.1148,"type":"quantitative","axis":null}}},
{"data":{"values":[{}]},"mark":{"type":"text","text":"8","fontSize":16,"align":"left","baseline":"alphabetic","dx":20,"dy":5,"color":"#0072BD"},
 "encoding":{"x":{"datum":16.76,"type":"quantitative","axis":null},"y":{"datum":0.1148,"type":"quantitative","axis":null}}},
{"data":{"values":[{}]},"mark":{"type":"text","text":"E","fontSize":44,"align":"left","baseline":"alphabetic","color":"#000"},
 "encoding":{"x":{"datum":7.63,"type":"quantitative","axis":null},"y":{"datum":0.871,"type":"quantitative","axis":null}}}
],
"resolve":{"axis":{"x":"independent","y":"independent"}}
},
{
"width":350,"height":266,
"layer":[
{"data":{"name":"ts"},"transform":[{"filter":"datum.p=='F'"},{"fold":["S5","S8","S13"],"as":["sp","v"]}],
 "mark":{"type":"line","strokeWidth":2.3,"clip":true},
 "encoding":{"x":{"field":"x","type":"quantitative","scale":{"domain":[10,20],"nice":false,"zero":false},
   "axis":{"orient":"bottom","values":[11,12,13,14,15,16,17,18,19,20],"title":"Dilution rounds","titleFontSize":24.5,"tickSize":-10,"labelPadding":16,"titlePadding":6}},
  "y":{"field":"v","type":"quantitative","scale":{"type":"log","domain":[0.01,1],"nice":false},
   "axis":{"orient":"left","values":[0.01,0.02,0.03,0.04,0.05,0.06,0.07,0.08,0.09,0.1,0.2,0.3,0.4,0.5,0.6,0.7,0.8,0.9,1],"tickSize":{"condition":{"test":"datum.value==1||datum.value==0.1||datum.value==0.01","value":-10},"value":-5},"labelExpr":"datum.value==1?'10⁰':datum.value==0.1?'10⁻¹':datum.value==0.01?'10⁻²':''","labelPadding":15,"title":"Population fractions","titlePadding":8}},
  "color":{"field":"sp","type":"nominal","legend":null,"scale":{"domain":["S5","S8","S13"],"range":["#77AC30","#0072BD","#4DBEEE"]}}}},
{"data":{"name":"ts"},"transform":[{"filter":"datum.p=='S' && datum.x>=12"},{"fold":["S5","S8","S13"],"as":["sp","v"]}],
 "mark":{"type":"line","strokeWidth":2.3,"clip":true},
 "encoding":{"x":{"field":"x","type":"quantitative","scale":{"domain":[10,20],"nice":false,"zero":false},"axis":null},
  "y":{"field":"v","type":"quantitative","scale":{"type":"log","domain":[0.01,1],"nice":false},"axis":null},
  "color":{"field":"sp","type":"nominal","legend":null,"scale":{"domain":["S5","S8","S13"],"range":["#77AC30","#0072BD","#4DBEEE"]}}}},
{"data":{"values":[{}]},"mark":{"type":"text","text":"Perturbation to","fontSize":20.5,"align":"right","baseline":"alphabetic","color":"#000"},
 "encoding":{"x":{"datum":17.01,"type":"quantitative","scale":{"domain":[10,20],"nice":false,"zero":false},"axis":{"orient":"top","values":[11,12,13,14,15,16,17,18,19,20],"tickSize":-10,"labels":false,"title":null}},
  "y":{"datum":0.1148,"type":"quantitative","scale":{"type":"log","domain":[0.01,1],"nice":false},"axis":{"orient":"right","values":[0.01,0.02,0.03,0.04,0.05,0.06,0.07,0.08,0.09,0.1,0.2,0.3,0.4,0.5,0.6,0.7,0.8,0.9,1],"tickSize":{"condition":{"test":"datum.value==1||datum.value==0.1||datum.value==0.01","value":-10},"value":-5},"labels":false,"title":null}}}},
{"data":{"values":[{}]},"mark":{"type":"text","text":"S","fontSize":21,"align":"left","baseline":"alphabetic","dx":6,"color":"#4DBEEE"},
 "encoding":{"x":{"datum":17.01,"type":"quantitative","axis":null},"y":{"datum":0.1148,"type":"quantitative","axis":null}}},
{"data":{"values":[{}]},"mark":{"type":"text","text":"13","fontSize":16,"align":"left","baseline":"alphabetic","dx":20,"dy":5,"color":"#4DBEEE"},
 "encoding":{"x":{"datum":17.01,"type":"quantitative","axis":null},"y":{"datum":0.1148,"type":"quantitative","axis":null}}},
{"data":{"values":[{}]},"mark":{"type":"text","text":"F","fontSize":44,"align":"left","baseline":"alphabetic","color":"#000"},
 "encoding":{"x":{"datum":7.54,"type":"quantitative","axis":null},"y":{"datum":0.89,"type":"quantitative","axis":null}}}
],
"resolve":{"axis":{"x":"independent","y":"independent"}}
},
{
"width":350,"height":266,"view":{"stroke":null},
"layer":[
{"data":{"name":"pie"},"transform":[{"filter":"datum.g=='1'"},{"stack":"pct","groupby":["g"],"sort":[{"field":"a","order":"ascending"}],"as":["p0","p1"]},{"filter":"datum.a=='Yes'"}],
 "mark":{"type":"arc","outerRadius":121.5,"stroke":"#222","strokeWidth":1,"fill":"#000080"},
 "encoding":{"theta":{"field":"p0","type":"quantitative","stack":null,"scale":{"domain":[0,100],"range":[0,6.283185]}},"theta2":{"field":"p1"},
  "x":{"datum":270.7,"type":"quantitative","scale":{"domain":[0,350],"nice":false,"zero":false},"axis":null},"y":{"datum":172.7,"type":"quantitative","scale":{"domain":[266,0],"nice":false,"zero":false},"axis":null}}},
{"data":{"name":"pie"},"transform":[{"filter":"datum.g=='1'"},{"stack":"pct","groupby":["g"],"sort":[{"field":"a","order":"ascending"}],"as":["p0","p1"]},{"filter":"datum.a=='No'"}],
 "mark":{"type":"arc","outerRadius":131,"stroke":"#222","strokeWidth":1,"fill":"#FFFF00","xOffset":1.8,"yOffset":-4.6},
 "encoding":{"theta":{"field":"p0","type":"quantitative","stack":null,"scale":{"domain":[0,100],"range":[0,6.283185]}},"theta2":{"field":"p1"},
  "x":{"datum":270.7,"type":"quantitative","axis":null},"y":{"datum":172.7,"type":"quantitative","axis":null}}},
{"data":{"name":"garr"},"transform":[{"filter":"datum.g=='1'"}],"mark":{"type":"line","interpolate":"monotone","strokeWidth":5,"color":"#000"},
 "encoding":{"x":{"field":"x","type":"quantitative","axis":null},"y":{"field":"y","type":"quantitative","axis":null}}},
{"data":{"values":[{}]},"mark":{"type":"point","shape":"M0,0L-2,-0.71L-2,0.71Z","filled":true,"size":1429,"angle":22,"color":"#000","opacity":1},
 "encoding":{"x":{"datum":163.3,"type":"quantitative","axis":null},"y":{"datum":126,"type":"quantitative","axis":null}}},
{"data":{"values":[{}]},"mark":{"type":"text","text":"Long-term stability?","fontSize":24.5,"align":"center","baseline":"alphabetic","color":"#000"},
 "encoding":{"x":{"datum":266,"type":"quantitative","axis":null},"y":{"datum":21,"type":"quantitative","axis":null}}},
{"data":{"values":[{}]},"mark":{"type":"text","text":["Among","derived","communities"],"fontSize":24.5,"lineHeight":30,"align":"center","baseline":"alphabetic","color":"#000"},
 "encoding":{"x":{"datum":52,"type":"quantitative","axis":null},"y":{"datum":166,"type":"quantitative","axis":null}}},
{"data":{"values":[{}]},"mark":{"type":"text","text":["Yes","88%"],"fontSize":21,"lineHeight":23,"align":"center","baseline":"alphabetic","color":"#FFFFFF"},
 "encoding":{"x":{"datum":243,"type":"quantitative","axis":null},"y":{"datum":232,"type":"quantitative","axis":null}}},
{"data":{"values":[{}]},"mark":{"type":"text","text":["No","12%"],"fontSize":22,"lineHeight":25,"align":"center","baseline":"alphabetic","color":"#000"},
 "encoding":{"x":{"datum":302,"type":"quantitative","axis":null},"y":{"datum":76,"type":"quantitative","axis":null}}},
{"data":{"values":[{}]},"mark":{"type":"text","text":"G","fontSize":44,"align":"left","baseline":"alphabetic","color":"#000"},
 "encoding":{"x":{"datum":-83,"type":"quantitative","axis":null},"y":{"datum":13,"type":"quantitative","axis":null}}}
]
},
{
"width":350,"height":266,"view":{"stroke":null},
"layer":[
{"data":{"name":"pie"},"transform":[{"filter":"datum.g=='2'"},{"stack":"pct","groupby":["g"],"sort":[{"field":"a","order":"ascending"}],"as":["p0","p1"]},{"filter":"datum.a=='Yes'"}],
 "mark":{"type":"arc","outerRadius":121.5,"stroke":"#222","strokeWidth":1,"fill":"#0000FF"},
 "encoding":{"theta":{"field":"p0","type":"quantitative","stack":null,"scale":{"domain":[0,100],"range":[0,6.283185]}},"theta2":{"field":"p1"},
  "x":{"datum":231.3,"type":"quantitative","scale":{"domain":[0,350],"nice":false,"zero":false},"axis":null},"y":{"datum":172.7,"type":"quantitative","scale":{"domain":[266,0],"nice":false,"zero":false},"axis":null}}},
{"data":{"name":"pie"},"transform":[{"filter":"datum.g=='2'"},{"stack":"pct","groupby":["g"],"sort":[{"field":"a","order":"ascending"}],"as":["p0","p1"]},{"filter":"datum.a=='No'"}],
 "mark":{"type":"arc","outerRadius":130.5,"stroke":"#222","strokeWidth":1,"fill":"#FF6600","xOffset":1.1,"yOffset":-4.9},
 "encoding":{"theta":{"field":"p0","type":"quantitative","stack":null,"scale":{"domain":[0,100],"range":[0,6.283185]}},"theta2":{"field":"p1"},
  "x":{"datum":231.3,"type":"quantitative","axis":null},"y":{"datum":172.7,"type":"quantitative","axis":null}}},
{"data":{"name":"garr"},"transform":[{"filter":"datum.g=='2'"}],"mark":{"type":"line","interpolate":"monotone","strokeWidth":5,"color":"#000"},
 "encoding":{"x":{"field":"x","type":"quantitative","axis":null},"y":{"field":"y","type":"quantitative","axis":null}}},
{"data":{"values":[{}]},"mark":{"type":"point","shape":"M0,0L-2,-0.71L-2,0.71Z","filled":true,"size":1429,"angle":22,"color":"#000","opacity":1},
 "encoding":{"x":{"datum":117,"type":"quantitative","axis":null},"y":{"datum":126,"type":"quantitative","axis":null}}},
{"data":{"values":[{}]},"mark":{"type":"text","text":"Asymptotic stability?","fontSize":24.5,"align":"center","baseline":"alphabetic","color":"#000"},
 "encoding":{"x":{"datum":235,"type":"quantitative","axis":null},"y":{"datum":21,"type":"quantitative","axis":null}}},
{"data":{"values":[{}]},"mark":{"type":"text","text":["Among stable","derived","communities"],"fontSize":24.5,"lineHeight":30,"align":"center","baseline":"alphabetic","color":"#000080"},
 "encoding":{"x":{"datum":12,"type":"quantitative","axis":null},"y":{"datum":166,"type":"quantitative","axis":null}}},
{"data":{"values":[{}]},"mark":{"type":"text","text":["Yes","93%"],"fontSize":21,"lineHeight":23,"align":"center","baseline":"alphabetic","color":"#FFFFFF"},
 "encoding":{"x":{"datum":209,"type":"quantitative","axis":null},"y":{"datum":232,"type":"quantitative","axis":null}}},
{"data":{"values":[{}]},"mark":{"type":"text","text":["No","7%"],"fontSize":22,"lineHeight":25,"align":"center","baseline":"alphabetic","color":"#000"},
 "encoding":{"x":{"datum":253,"type":"quantitative","axis":null},"y":{"datum":59,"type":"quantitative","axis":null}}}
]
}
]
}
